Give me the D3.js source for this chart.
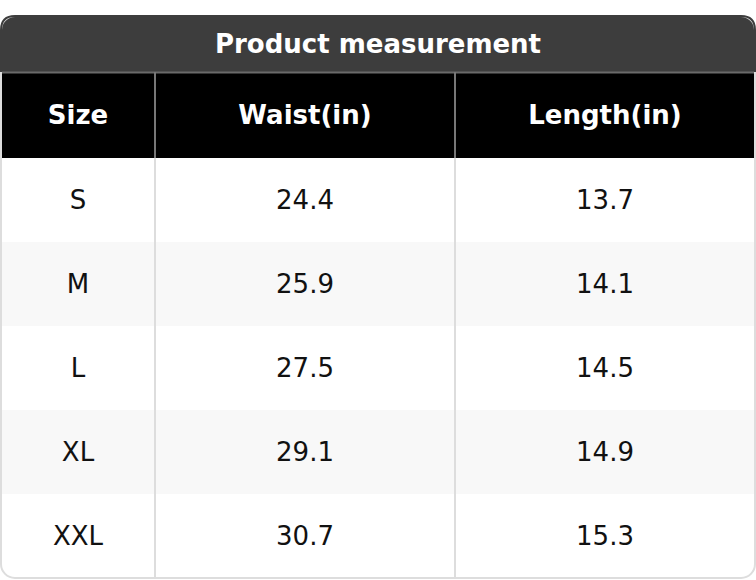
<!DOCTYPE html>
<html>
<head>
<meta charset="utf-8">
<script src="https://cdn.jsdelivr.net/npm/d3@7"></script>
<style>
body { margin: 0; background: #fff; }
text { font-family: "DejaVu Sans", sans-serif; }
</style>
</head>
<body>
<svg id="chart" width="756" height="580"></svg>
<script>
var title = "Product measurement";
var columns = ["Size", "Waist(in)", "Length(in)"];
var sizes = ["S", "M", "L", "XL", "XXL"];
var waist = ["24.4", "25.9", "27.5", "29.1", "30.7"];
var lengths = ["13.7", "14.1", "14.5", "14.9", "15.3"];

var svg = d3.select("#chart");
var left = 1, right = 755, tableTop = 16, titleH = 56, headH = 86, rowH = 84, r = 14;
var colEdges = [left, 155, 455, right];
var bottom = tableTop + titleH + headH + rowH * sizes.length;

var y = d3.scaleBand().domain(d3.range(sizes.length)).range([tableTop + titleH + headH, bottom]);

// clip to rounded outline
svg.append("clipPath").attr("id", "clip")
    .append("rect").attr("x", left).attr("y", tableTop).attr("width", right - left)
    .attr("height", bottom - tableTop).attr("rx", r);

var g = svg.append("g").attr("clip-path", "url(#clip)");

g.append("rect").attr("x", left).attr("y", tableTop).attr("width", right - left)
    .attr("height", titleH).attr("fill", "#3d3d3d");
g.append("rect").attr("x", left).attr("y", tableTop + titleH).attr("width", right - left)
    .attr("height", headH).attr("fill", "#000");
g.append("line").attr("x1", left).attr("x2", right)
    .attr("y1", tableTop + titleH + 0.5).attr("y2", tableTop + titleH + 0.5)
    .attr("stroke", "#6a6a6a").attr("stroke-width", 2);

g.selectAll(".row").data(sizes).enter().append("rect")
    .attr("x", left).attr("y", function(d, i) { return y(i); })
    .attr("width", right - left).attr("height", y.bandwidth())
    .attr("fill", function(d, i) { return i % 2 ? "#f8f8f8" : "#fff"; });

// column dividers
[1, 2].forEach(function(c) {
    g.append("line").attr("x1", colEdges[c]).attr("x2", colEdges[c])
        .attr("y1", tableTop + titleH).attr("y2", tableTop + titleH + headH)
        .attr("stroke", "#777").attr("stroke-width", 2);
    g.append("line").attr("x1", colEdges[c]).attr("x2", colEdges[c])
        .attr("y1", tableTop + titleH + headH).attr("y2", bottom)
        .attr("stroke", "#ddd").attr("stroke-width", 2);
});

svg.append("rect").attr("x", left).attr("y", tableTop).attr("width", right - left)
    .attr("height", bottom - tableTop).attr("rx", r).attr("fill", "none")
    .attr("stroke", "#ddd").attr("stroke-width", 2);
svg.append("path")
    .attr("d", "M" + left + "," + (tableTop + titleH) + "V" + (tableTop + r) + "Q" + left + "," + tableTop + " " + (left + r) + "," + tableTop +
        "H" + (right - r) + "Q" + right + "," + tableTop + " " + right + "," + (tableTop + r) + "V" + (tableTop + titleH))
    .attr("fill", "none").attr("stroke", "#3d3d3d").attr("stroke-width", 2);

svg.append("text").attr("x", (left + right) / 2).attr("y", tableTop + titleH / 2)
    .attr("text-anchor", "middle").attr("dominant-baseline", "central")
    .attr("fill", "#fff").attr("font-weight", "bold").attr("font-size", 26)
    .text(title);

var mid = function(c) { return (colEdges[c] + colEdges[c + 1]) / 2; };

svg.selectAll(".head").data(columns).enter().append("text")
    .attr("x", function(d, i) { return mid(i); }).attr("y", tableTop + titleH + headH / 2)
    .attr("text-anchor", "middle").attr("dominant-baseline", "central")
    .attr("fill", "#fff").attr("font-weight", "bold").attr("font-size", 26)
    .text(function(d) { return d; });

[sizes, waist, lengths].forEach(function(col, c) {
    svg.selectAll(".c" + c).data(col).enter().append("text")
        .attr("x", mid(c)).attr("y", function(d, i) { return y(i) + y.bandwidth() / 2; })
        .attr("text-anchor", "middle").attr("dominant-baseline", "central")
        .attr("fill", "#111").attr("font-size", 26)
        .text(function(d) { return d; });
});
</script>
</body>
</html>
